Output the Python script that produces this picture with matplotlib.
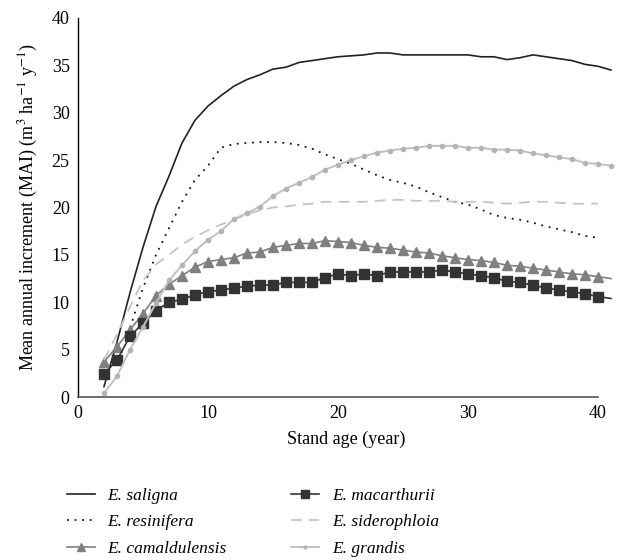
import numpy as np
import matplotlib
matplotlib.use("Agg")
import matplotlib.pyplot as plt

plt.rcParams['font.family'] = ['Liberation Serif', 'DejaVu Serif']
plt.rcParams['mathtext.fontset'] = 'stix'

# stand age (years)
age_full = list(range(2, 42))     # 2..41
age_res = list(range(4, 41))      # 4..40
age_sid = list(range(2, 41))      # 2..40

saligna = [1.1, 5.8, 11.0, 15.8, 20.1, 23.3, 26.8, 29.2, 30.7, 31.8,
           32.8, 33.5, 34.0, 34.6, 34.8, 35.3, 35.5, 35.7, 35.9, 36.0,
           36.1, 36.3, 36.3, 36.1, 36.1, 36.1, 36.1, 36.1, 36.1, 35.9,
           35.9, 35.6, 35.8, 36.1, 35.9, 35.7, 35.5, 35.1, 34.9, 34.5]
resinifera = [7.3, 11.5, 15.0, 17.8, 20.6, 22.9, 24.4, 26.3, 26.7, 26.8,
              26.9, 26.9, 26.8, 26.6, 26.2, 25.6, 25.1, 24.6, 24.0, 23.4,
              22.9, 22.6, 22.2, 21.6, 21.1, 20.6, 20.3, 19.8, 19.2, 18.9,
              18.7, 18.4, 18.0, 17.7, 17.4, 17.0, 16.8]
camaldulensis = [3.7, 5.3, 7.1, 8.8, 10.7, 11.9, 12.8, 13.7, 14.3, 14.5,
                 14.7, 15.2, 15.3, 15.8, 16.0, 16.2, 16.2, 16.5, 16.4, 16.3,
                 16.0, 15.8, 15.7, 15.5, 15.3, 15.2, 14.9, 14.7, 14.5, 14.4,
                 14.2, 13.9, 13.8, 13.6, 13.4, 13.2, 13.0, 12.9, 12.7, 12.5]
macarthurii = [2.4, 3.9, 6.4, 7.8, 9.1, 10.0, 10.3, 10.8, 11.1, 11.3,
               11.5, 11.7, 11.8, 11.8, 12.1, 12.1, 12.1, 12.6, 13.0, 12.8,
               13.0, 12.8, 13.2, 13.2, 13.2, 13.2, 13.4, 13.2, 13.0, 12.8,
               12.6, 12.2, 12.1, 11.8, 11.5, 11.3, 11.1, 10.9, 10.6, 10.4]
siderophloia = [3.9, 6.6, 9.5, 12.3, 14.0, 15.0, 16.1, 16.9, 17.6, 18.2,
                18.7, 19.3, 19.7, 20.0, 20.1, 20.3, 20.4, 20.6, 20.6, 20.6,
                20.6, 20.7, 20.8, 20.8, 20.7, 20.7, 20.7, 20.6, 20.6, 20.6,
                20.5, 20.4, 20.5, 20.6, 20.6, 20.5, 20.4, 20.4, 20.4]
grandis = [0.4, 2.2, 5.0, 7.4, 9.9, 12.3, 13.9, 15.4, 16.6, 17.5,
           18.8, 19.4, 20.1, 21.2, 22.0, 22.6, 23.2, 24.0, 24.5, 25.0,
           25.4, 25.8, 26.0, 26.2, 26.3, 26.5, 26.5, 26.5, 26.3, 26.3,
           26.1, 26.1, 26.0, 25.7, 25.5, 25.3, 25.1, 24.7, 24.6, 24.4]

fig = plt.figure(figsize=(6.17, 5.6), dpi=100)
ax = fig.add_axes([0.1264, 0.291, 0.868, 0.677])

skip_last = list(range(len(age_full) - 1))

h1, = ax.plot(age_full, saligna, color='#222222', lw=1.2, label='E. saligna')
h2, = ax.plot(age_res, resinifera, color='#111111', lw=1.3, ls=(0, (1, 3.2)),
              label='E. resinifera')
h3, = ax.plot(age_full, camaldulensis, color='#808080', lw=1.2, marker='^',
              ms=7.5, markevery=skip_last, label='E. camaldulensis')
h4, = ax.plot(age_full, macarthurii, color='#333333', lw=1.2, marker='s',
              ms=7.8, markevery=skip_last, label='E. macarthurii')
h5, = ax.plot(age_sid, siderophloia, color='#c4c4c4', lw=1.3, ls=(0, (6, 4)),
              label='E. siderophloia')
h6, = ax.plot(age_full, grandis, color='#c0c0c0', lw=1.4, marker='o',
              ms=3, mfc='#b4b4b4', mec='#b4b4b4', label='E. grandis')

ax.set_xlim(0, 41.2)
ax.set_ylim(0, 40)
ax.set_xticks([0, 10, 20, 30, 40])
ax.set_yticks(range(0, 41, 5))
ax.tick_params(length=0, labelsize=13, pad=6)
ax.spines['top'].set_visible(False)
ax.spines['right'].set_visible(False)
ax.spines['bottom'].set_bounds(0, 40)
ax.spines['bottom'].set_color('#555555')
ax.spines['bottom'].set_linewidth(1.2)
ax.spines['left'].set_linewidth(1.0)

ax.set_xlabel('Stand age (year)', fontsize=13, labelpad=6)
ax.set_ylabel('Mean annual increment (MAI) (m$^{3}$ ha$^{-1}$ y$^{-1}$)',
              fontsize=13, labelpad=8)

leg = fig.legend(handles=[h1, h2, h3, h4, h5, h6], ncol=2, frameon=False,
                 loc='upper left', bbox_to_anchor=(0.097, 0.142),
                 prop={'style': 'italic', 'size': 12.5}, handlelength=1.6,
                 handletextpad=0.75, columnspacing=3.7, labelspacing=0.62,
                 markerscale=0.7, borderaxespad=0)

fig.savefig('out.png', dpi=100)
